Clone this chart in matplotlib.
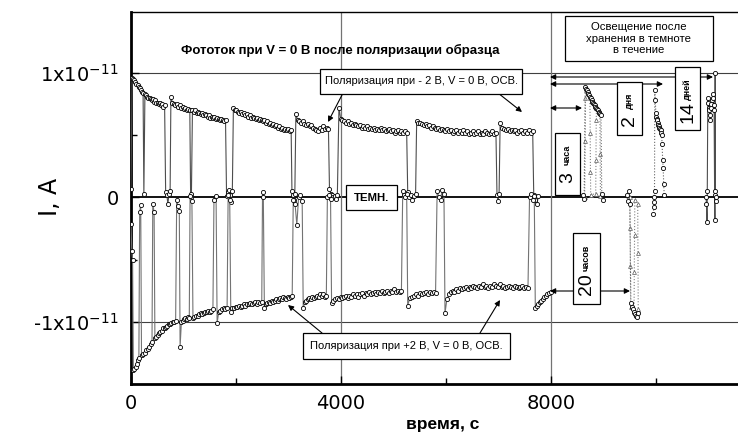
import matplotlib
matplotlib.use("Agg")
import matplotlib.pyplot as plt
import numpy as np
from matplotlib.patches import Rectangle

plt.rcParams['font.family'] = ['Liberation Sans', 'DejaVu Sans']
plt.rcParams['mathtext.default'] = 'regular'

# photocurrent in units of 1e-11 A; each run = (t_start, t_end, values)
upper_t0 = [0, 20, 245, 265, 660, 760, 1135, 1170, 1820, 1950, 3065, 3140, 3780,
            3960, 5270, 5440, 6970, 7030, 7670]
upper_t1 = [10, 230, 250, 640, 745, 1120, 1150, 1800, 1930, 3050, 3120, 3760, 3930,
            5250, 5420, 6950, 7010, 7650, 7760]
upper_vals = [
    [0.07],
    [0.96, 0.95, 0.94, 0.93, 0.91, 0.90, 0.89, 0.88, 0.86, 0.85, 0.84],
    [0.03],
    [0.83, 0.82, 0.81, 0.80, 0.80, 0.79, 0.78, 0.79, 0.77, 0.78, 0.76, 0.76, 0.75, 0.76,
     0.74, 0.75, 0.73, 0.74],
    [0.04, 0.02, -0.05, 0.03, 0.05],
    [0.81, 0.76, 0.75, 0.74, 0.75, 0.73, 0.74, 0.72, 0.73, 0.71, 0.72, 0.70, 0.71, 0.70],
    [0.03, 0.00],
    [0.70, 0.69, 0.70, 0.68, 0.69, 0.68, 0.67, 0.68, 0.66, 0.67, 0.66, 0.65, 0.66, 0.64,
     0.65, 0.64, 0.65, 0.63, 0.64, 0.63, 0.62, 0.63, 0.62, 0.61, 0.62],
    [0.01, 0.04, 0.06, 0.02, -0.04, 0.05],
    [0.72, 0.70, 0.70, 0.69, 0.68, 0.69, 0.67, 0.68, 0.66, 0.67, 0.65, 0.66, 0.64, 0.65,
     0.64, 0.63, 0.64, 0.62, 0.63, 0.62, 0.61, 0.62, 0.60, 0.61, 0.59, 0.60, 0.58, 0.59,
     0.57, 0.58, 0.56, 0.57, 0.55, 0.56, 0.54, 0.55, 0.54, 0.55, 0.53, 0.54],
    [0.05, 0.02, -0.02, 0.03],
    [0.67, 0.62, 0.61, 0.60, 0.61, 0.59, 0.58, 0.59, 0.57, 0.58, 0.56, 0.55, 0.54, 0.53,
     0.56, 0.54, 0.57, 0.55, 0.56, 0.55],
    [0.07, 0.03, 0.02, 0.00, 0.01, -0.01, 0.02],
    [0.72, 0.63, 0.62, 0.61, 0.60, 0.61, 0.59, 0.60, 0.58, 0.59, 0.58, 0.57, 0.58, 0.56,
     0.57, 0.56, 0.57, 0.55, 0.56, 0.55, 0.56, 0.54, 0.55, 0.54, 0.56, 0.54, 0.55, 0.53,
     0.54, 0.55, 0.53, 0.54, 0.52, 0.53, 0.54, 0.52, 0.53, 0.52, 0.53, 0.52],
    [0.04, 0.00, 0.02, -0.02, 0.01, 0.03],
    [0.61, 0.60, 0.60, 0.59, 0.58, 0.59, 0.57, 0.58, 0.56, 0.57, 0.56, 0.55, 0.56, 0.54,
     0.55, 0.54, 0.53, 0.55, 0.53, 0.54, 0.52, 0.53, 0.54, 0.52, 0.53, 0.52, 0.54, 0.52,
     0.53, 0.51, 0.52, 0.53, 0.51, 0.52, 0.53, 0.51, 0.52, 0.51, 0.53, 0.52, 0.51, 0.52,
     0.53, 0.51, 0.52],
    [0.02, -0.03, 0.03],
    [0.60, 0.56, 0.55, 0.54, 0.55, 0.53, 0.54, 0.53, 0.54, 0.52, 0.53, 0.54, 0.52, 0.53,
     0.52, 0.54, 0.52, 0.53],
    [0.02, -0.02, -0.05, 0.01],
]

lower_t0 = [0, 45, 165, 200, 415, 455, 870, 935, 1125, 1180, 1580, 1640, 1850, 1900,
            2505, 2540, 3090, 3280, 3740, 3820, 5175, 5270, 5830, 5980, 7590, 7700]
lower_t1 = [30, 150, 185, 400, 440, 850, 920, 1110, 1160, 1560, 1620, 1830, 1880, 2490,
            2520, 3070, 3260, 3720, 3800, 5150, 5250, 5800, 5960, 7560, 7680, 7990]
lower_vals = [
    [-0.21, -0.43, -0.50],
    [-1.39, -1.38, -1.36, -1.34, -1.31, -1.29],
    [-0.12, -0.06],
    [-1.27, -1.26, -1.25, -1.23, -1.22, -1.20, -1.18, -1.16],
    [-0.05, -0.12],
    [-1.13, -1.12, -1.11, -1.09, -1.08, -1.07, -1.05, -1.05, -1.04, -1.03, -1.02, -1.02,
     -1.01, -1.00, -1.00, -0.99],
    [-0.02, -0.07, -0.11],
    [-1.20, -1.00, -0.99, -0.98, -0.97, -0.98, -0.96, -0.97],
    [0.01, -0.03],
    [-0.97, -0.96, -0.95, -0.95, -0.94, -0.93, -0.94, -0.93, -0.92, -0.92, -0.91, -0.92,
     -0.91, -0.90],
    [-0.02, 0.01],
    [-1.01, -0.92, -0.91, -0.90, -0.89, -0.90, -0.89],
    [0.02, -0.02],
    [-0.92, -0.89, -0.89, -0.88, -0.88, -0.87, -0.88, -0.87, -0.86, -0.87, -0.86, -0.86,
     -0.85, -0.86, -0.85, -0.84, -0.86, -0.84, -0.85, -0.84],
    [0.04, 0.00],
    [-0.89, -0.86, -0.85, -0.84, -0.85, -0.83, -0.84, -0.83, -0.82, -0.83, -0.82, -0.81,
     -0.82, -0.80, -0.81, -0.82, -0.80, -0.81, -0.80, -0.79],
    [-0.02, -0.05, -0.22, 0.00, 0.02, -0.03],
    [-0.89, -0.84, -0.83, -0.82, -0.81, -0.82, -0.80, -0.81, -0.80, -0.79, -0.80, -0.78,
     -0.79, -0.78, -0.80, -0.79],
    [0.00, 0.02, -0.01],
    [-0.85, -0.83, -0.82, -0.81, -0.82, -0.80, -0.81, -0.80, -0.79, -0.81, -0.79, -0.80,
     -0.78, -0.79, -0.78, -0.80, -0.78, -0.77, -0.79, -0.77, -0.78, -0.76, -0.78, -0.77,
     -0.76, -0.78, -0.76, -0.77, -0.75, -0.77, -0.76, -0.75, -0.77, -0.75, -0.76, -0.74,
     -0.76, -0.75, -0.76, -0.75],
    [0.05, 0.02, 0.00, 0.03],
    [-0.87, -0.81, -0.80, -0.79, -0.78, -0.79, -0.77, -0.78, -0.77, -0.76, -0.78, -0.76,
     -0.77, -0.76, -0.77],
    [0.05, 0.00, -0.02, 0.06, 0.03],
    [-0.93, -0.82, -0.78, -0.76, -0.75, -0.76, -0.74, -0.75, -0.73, -0.74, -0.73, -0.72,
     -0.74, -0.72, -0.73, -0.71, -0.72, -0.73, -0.71, -0.72, -0.70, -0.72, -0.71, -0.73,
     -0.71, -0.72, -0.70, -0.71, -0.72, -0.70, -0.72, -0.71, -0.73, -0.72, -0.71, -0.72,
     -0.73, -0.71, -0.72, -0.73, -0.72, -0.71, -0.73, -0.72, -0.73],
    [0.00, 0.03, -0.02, 0.01],
    [-0.89, -0.87, -0.86, -0.84, -0.83, -0.82, -0.80, -0.79, -0.78, -0.77, -0.76],
]

# illumination after storage in the dark
h3_t = [8600, 8630, 8650, 8665, 8680, 8695, 8710, 8725, 8740, 8755, 8770, 8785, 8800,
        8815, 8830, 8845, 8860, 8875, 8890, 8905, 8920, 8935, 8950, 8965, 8980]
h3_i = [0.02, -0.01, 0.89, 0.87, 0.86, 0.85, 0.83, 0.82, 0.81, 0.80, 0.78, 0.77, 0.76,
        0.75, 0.74, 0.73, 0.72, 0.71, 0.70, 0.69, 0.68, 0.67, 0.66, 0.03, -0.02]
h3_tri_t = [8640, 8650, 8655, 8660, 8740, 8745, 8750, 8755, 8850, 8855, 8860, 8865,
            8930, 8935, 8940]
h3_tri_i = [0.00, 0.45, 0.80, 0.86, 0.80, 0.52, 0.20, 0.02, 0.03, 0.30, 0.62, 0.72,
            0.68, 0.35, 0.01]

h20_t = [9440, 9460, 9480, 9500, 9520, 9540, 9560, 9580, 9600, 9620, 9640, 9660]
h20_i = [0.02, -0.03, 0.05, -0.05, -0.85, -0.88, -0.90, -0.92, -0.94, -0.95, -0.96, -0.93]
h20_tri_t = [9500, 9505, 9510, 9515, 9580, 9585, 9590, 9595, 9650, 9655, 9660]
h20_tri_i = [0.00, -0.25, -0.55, -0.88, -0.92, -0.60, -0.30, -0.02, -0.05, -0.45, -0.90]

d2_t = [9950, 9955, 9960, 9965, 9970, 9975, 9985, 9995, 10005, 10015, 10025, 10035,
        10045, 10055, 10065, 10075, 10085, 10095, 10105, 10115, 10125, 10135, 10145, 10155]
d2_i = [-0.13, -0.08, -0.04, 0.00, 0.05, 0.86, 0.78, 0.68, 0.65, 0.63, 0.62, 0.60,
        0.58, 0.57, 0.56, 0.55, 0.54, 0.52, 0.50, 0.43, 0.30, 0.24, 0.11, 0.02]

d14_t = [10950, 10960, 10970, 10975, 10985, 10995, 11005, 11015, 11025, 11035, 11045,
         11055, 11065, 11075, 11085, 11095, 11105, 11115, 11120, 11125, 11130, 11140, 11150]
d14_i = [0.00, -0.05, -0.20, 0.05, 0.80, 0.76, 0.72, 0.70, 0.66, 0.62, 0.72, 0.75, 0.78,
         0.80, 0.83, 0.74, 0.70, 0.02, -0.18, 1.00, 0.05, -0.03, 0.00]


def expand(t0, t1, vals):
    ts, vs = [], []
    for a, b, v in zip(t0, t1, vals):
        ts.extend(np.linspace(a, b, len(v)))
        vs.extend(v)
    return np.array(ts), np.array(vs)


W, H = 738, 437
fig = plt.figure(figsize=(W / 100, H / 100), dpi=100)
ax = fig.add_axes([131 / W, 1 - 384 / H, (W - 131) / W, (384 - 12) / H])


def fx(x):
    return x / W


def fy(y):
    return 1 - y / H


# grid lines
for y in (1, -1):
    ax.axhline(y, color="0.25", lw=0.8, zorder=1)
ax.axhline(0, color="black", lw=1.3, zorder=1)
for x in (4000, 8000):
    ax.axvline(x, color="0.45", lw=0.9, zorder=1)

circ = dict(marker="o", ms=3.0, mfc="white", mec="black", mew=0.6)
tri = dict(marker="^", ms=2.8, mfc="white", mec="0.35", mew=0.5)

tu, iu = expand(upper_t0, upper_t1, upper_vals)
tl, il = expand(lower_t0, lower_t1, lower_vals)
ax.plot(tu, iu, "-", color="0.3", lw=0.8, zorder=3, **circ)
ax.plot(tl, il, "-", color="0.45", lw=0.8, zorder=3, **circ)

ax.plot(h3_tri_t, h3_tri_i, ":", color="0.5", lw=0.8, zorder=3, **tri)
ax.plot(h3_t, h3_i, ":", color="0.4", lw=0.8, zorder=3, **circ)
ax.plot(h20_tri_t, h20_tri_i, ":", color="0.5", lw=0.8, zorder=3, **tri)
ax.plot(h20_t, h20_i, ":", color="0.4", lw=0.8, zorder=3, **circ)
ax.plot(d2_t, d2_i, ":", color="0.4", lw=0.8, zorder=3, **circ)
ax.plot(d14_t, d14_i, "-", color="0.3", lw=0.8, zorder=3, **circ)

ax.set_xlim(0, 11560)
ax.set_ylim(-1.50, 1.49)
ax.set_xticks([0, 4000, 8000], ["0", "4000", "8000"])
ax.set_xticks([2000, 6000, 10000], minor=True)
ax.set_yticks([-1, 0, 1], ["-1x10$^{-11}$", "0", "1x10$^{-11}$"])
ax.set_yticks([-0.5, 0.5], minor=True)
ax.tick_params(which="both", direction="in", labelsize=14, labelfontfamily="DejaVu Sans")
ax.tick_params(which="major", length=6, width=1)
ax.tick_params(which="minor", length=4, width=1)
ax.tick_params(axis="y", pad=9)
ax.tick_params(axis="x", pad=7)
ax.spines["right"].set_visible(False)
ax.spines["left"].set_linewidth(2)
ax.spines["bottom"].set_linewidth(2)
ax.spines["top"].set_linewidth(1)

fig.text(fx(50), fy(197), "I, A", rotation=90, ha="center", va="center",
         fontsize=17, family="DejaVu Sans")
fig.text(fx(443), fy(424), "время, с", ha="center", va="center",
         fontsize=12.5, fontweight="bold")
fig.text(fx(340), fy(50), "Фототок при V = 0 В после поляризации образца",
         ha="center", va="center", fontsize=9.5, fontweight="bold")


def box(x0, y0, x1, y1):
    fig.add_artist(Rectangle((fx(x0), fy(y1)), fx(x1) - fx(x0), fy(y0) - fy(y1),
                             transform=fig.transFigure, fc="white", ec="black",
                             lw=0.9, zorder=5))


def arrow(x0, y0, x1, y1, style="-|>"):
    ax.annotate("", xy=(fx(x1), fy(y1)), xytext=(fx(x0), fy(y0)),
                xycoords="figure fraction", textcoords="figure fraction",
                arrowprops=dict(arrowstyle=style, color="black", lw=0.8,
                                mutation_scale=8, shrinkA=0, shrinkB=0))


# polarization labels
arrow(342, 95, 328, 122)
arrow(498, 93, 522, 112)
box(320, 69, 522, 94)
fig.text(fx(421), fy(81.5), "Поляризация при - 2 В, V = 0 В, ОСВ.", ha="center",
         va="center", fontsize=8, zorder=6)

arrow(322, 333, 288, 305)
arrow(480, 333, 500, 300)
box(303, 333, 510, 359)
fig.text(fx(406.5), fy(346), "Поляризация при +2 В, V = 0 В, ОСВ.", ha="center",
         va="center", fontsize=8, zorder=6)

box(346, 185, 397, 210)
fig.text(fx(371.5), fy(197.5), "ТЕМН.", ha="center", va="center", fontsize=8.2,
         fontweight="bold", zorder=6)

box(565, 16, 713, 61)
fig.text(fx(639), fy(38.5), "Освещение после\nхранения в темноте\nв течение",
         ha="center", va="center", fontsize=8.2, linespacing=1.15, zorder=6)

# storage-time arrows and boxes
arrow(550, 77, 713, 77, "<|-|>")
arrow(550, 84, 663, 84, "<|-|>")
arrow(550, 108, 582, 108, "<|-|>")
arrow(550, 291, 630, 291, "<|-|>")

for (x0, y0, x1, y1), big, small in [((555, 133, 580, 195), "3", "часа"),
                                      ((617, 82, 642, 135), "2", "дня"),
                                      ((675, 67, 700, 130), "14", "дней"),
                                      ((573, 233, 600, 304), "20", "часов")]:
    box(x0, y0, x1, y1)
    cx = (x0 + x1) / 2
    h = y1 - y0
    fig.text(fx(cx), fy(y1 - h * 0.28), big, rotation=90, ha="center", va="center",
             fontsize=14, zorder=6)
    fig.text(fx(cx), fy(y0 + h * 0.35), small, rotation=90, ha="center", va="center",
             fontsize=6.5, fontweight="bold", zorder=6)

fig.savefig("out.png", dpi=100)
